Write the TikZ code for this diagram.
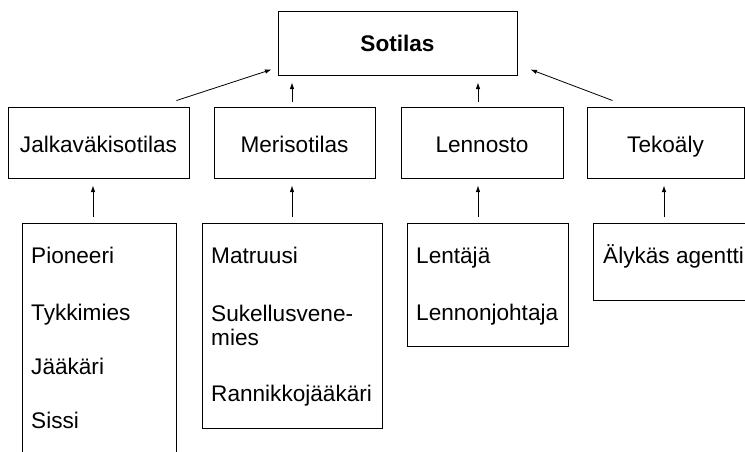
\documentclass[tikz,border=0pt]{standalone}
\usepackage{fontspec}
\setmainfont{Liberation Sans}
\usetikzlibrary{arrows.meta,calc}
\begin{document}
\begin{tikzpicture}[x=1pt,y=-1pt,
  box/.style={draw=black, line width=1pt, inner sep=0pt, font=\fontsize{22.6}{25}\selectfont},
  midbox/.style={box, minimum height=71pt, text height=19pt, text depth=0pt},
  lbl/.style={font=\fontsize{22.6}{25}\selectfont, inner sep=0pt, anchor=base west},
  arr/.style={-{Latex[length=6.5pt,width=4.5pt]}, line width=0.8pt}]
\useasboundingbox (0,0) rectangle (745,451);
% top
\node[box, minimum width=239pt, minimum height=64pt] (sot) at (397.5,43) {\bfseries Sotilas};
% level 2
\node[midbox, minimum width=181pt] (jal) at (98.5,142.5) {Jalkaväkisotilas};
\node[midbox, minimum width=161pt] (mer) at (294.5,142.5) {Merisotilas};
\node[midbox, minimum width=162pt] (len) at (482,142.5) {Lennosto};
\node[midbox, minimum width=157pt] (tek) at (665.5,142.5) {Tekoäly};
% lower boxes
\node[box, minimum width=154pt, minimum height=247pt] (b1) at (99,346.5) {};
\node[box, minimum width=180pt, minimum height=205pt] (b2) at (292,325.5) {};
\node[box, minimum width=161pt, minimum height=123pt] (b3) at (487.5,284.5) {};
\node[box, minimum width=162pt, minimum height=77pt] (b4) at (674,261.5) {};
% texts
\node[lbl] (t11) at (31,263) {Pioneeri};
\node[lbl] (t12) at (31,320) {Tykkimies};
\node[lbl] (t13) at (31,374) {Jääkäri};
\node[lbl] (t14) at (31,428) {Sissi};
\node[lbl] (t21) at (211,263) {Matruusi};
\node[lbl] (t22) at (211,321) {Sukellusvene-};
\node[lbl] (t23) at (211,345) {mies};
\node[lbl] (t24) at (211,401) {Rannikkojääkäri};
\node[lbl] (t31) at (416,263) {Lentäjä};
\node[lbl] (t32) at (416,320) {Lennonjohtaja};
\node[lbl] (t41) at (603,263) {Älykäs agentti};
% arrows level 2 -> top
\draw[arr] ($(jal.north east)+(-13,-6)$) -- ($(sot.south west)+(-6,-6)$);
\draw[arr] ($(mer.north)+(-2.5,-5)$) -- ($(sot.south -| mer.north)+(-2.5,7)$);
\draw[arr] ($(len.north)+(-4,-5)$) -- ($(sot.south -| len.north)+(-4,7)$);
\draw[arr] ($(tek.north west)+(26,-6)$) -- ($(sot.south east)+(13,-6)$);
% arrows lower -> level 2
\draw[arr] ($(b1.north)+(-6,-6)$) -- ($(jal.south -| b1.north)+(-6,7)$);
\draw[arr] ($(b2.north)+(0,-6)$) -- ($(mer.south -| b2.north)+(0,7)$);
\draw[arr] ($(b3.north)+(-9.5,-6)$) -- ($(len.south -| b3.north)+(-9.5,7)$);
\draw[arr] ($(b4.north)+(-10,-6)$) -- ($(tek.south -| b4.north)+(-10,7)$);
\end{tikzpicture}
\end{document}
